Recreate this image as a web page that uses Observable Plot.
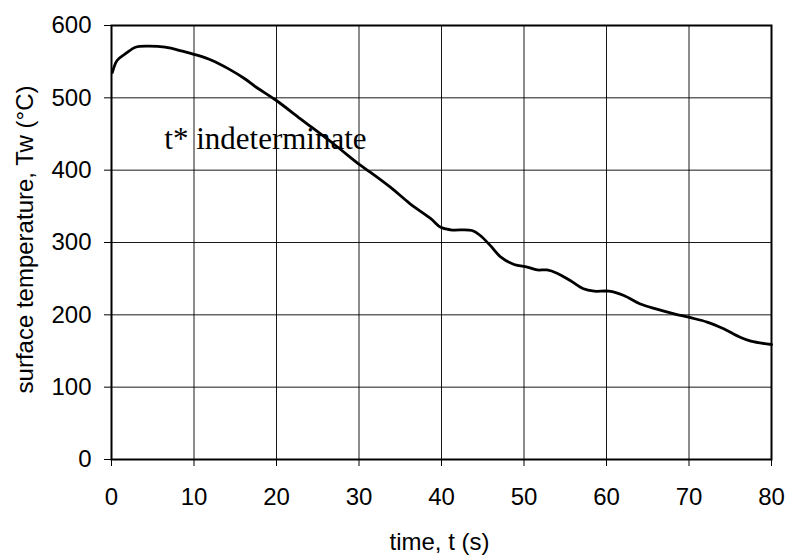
<!DOCTYPE html>
<html>
<head>
<meta charset="utf-8">
<script src="https://cdn.jsdelivr.net/npm/d3@7"></script>
<script src="https://cdn.jsdelivr.net/npm/@observablehq/plot@0.6"></script>
<style>
  html, body { margin: 0; padding: 0; background: #fff; }
</style>
</head>
<body>
<div id="chart"></div>
<script>
// time (s)
const timeS = [0.1, 0.7, 1.7, 2.9, 4.5, 6.5, 8.6, 10.2, 12.2, 14.2, 16.2, 17.5, 19.9, 22.9, 26.9, 30.2, 31.4, 33.8, 36.2, 38.7, 39.9, 41.1, 43.7, 44.7, 45.9, 47.2, 48.8, 50.4, 51.6, 52.8, 54.0, 55.6, 57.2, 58.5, 60.3, 62.1, 64.1, 66.1, 68.2, 70.2, 72.2, 74.2, 76.2, 77.5, 80];
// surface temperature Tw (°C)
const tempC = [535, 552, 561, 570, 571.5, 570, 564.5, 559.5, 551.6, 540, 526, 515, 497, 471, 436.5, 406.5, 397, 376.5, 353.5, 333, 321, 317.5, 316.6, 309.7, 296, 279.7, 269.6, 266, 262, 262, 257.6, 247.5, 236, 232.7, 232.7, 226.7, 215, 208, 201.4, 196, 190, 180.7, 169, 163.6, 159];

const xTicks = [0, 10, 20, 30, 40, 50, 60, 70, 80];
const yTicks = [0, 100, 200, 300, 400, 500, 600];

const xLabel = "time, t (s)";
const yLabel = "surface temperature, Tw (°C)";
const annotText = ["t* indeterminate"];
const annotX = [6.4];
const annotY = [443];

const series = timeS.map((t, i) => ({t, T: tempC[i]}));
const annot = annotText.map((s, i) => ({s, x: annotX[i], y: annotY[i]}));

const chart = Plot.plot({
  width: 787,
  height: 555,
  marginLeft: 111,
  marginRight: 16,
  marginTop: 25,
  marginBottom: 96,
  style: {fontFamily: "Liberation Sans, Arial, sans-serif", color: "black", background: "white"},
  x: {domain: [0, 80]},
  y: {domain: [0, 600]},
  marks: [
    Plot.gridX(xTicks, {stroke: "black", strokeOpacity: 0.9, strokeWidth: 1}),
    Plot.gridY(yTicks, {stroke: "black", strokeOpacity: 0.9, strokeWidth: 1}),
    Plot.frame({stroke: "black", strokeWidth: 2}),
    Plot.axisX({ticks: xTicks, tickSize: 7, tickPadding: 21, fontSize: 24, label: null, tickFormat: d => String(d)}),
    Plot.axisY({ticks: yTicks, tickSize: 7, tickPadding: 13, fontSize: 24, label: null, tickFormat: d => String(d)}),
    Plot.line(series, {x: "t", y: "T", stroke: "black", strokeWidth: 2.8, curve: "catmull-rom"}),
    Plot.text(annot, {x: "x", y: "y", text: "s", textAnchor: "start", lineAnchor: "middle", fontFamily: "Liberation Serif, Times New Roman, serif", fontSize: 31, fill: "black"}),
    Plot.text([xLabel], {text: d => d, frameAnchor: "bottom", textAnchor: "middle", lineAnchor: "middle", dy: 83, dx: -2, fontSize: 24, fill: "black"}),
    Plot.text([yLabel], {text: d => d, frameAnchor: "left", textAnchor: "middle", lineAnchor: "middle", rotate: -90, dx: -86, dy: -3, fontSize: 24, fill: "black"})
  ]
});
document.getElementById("chart").appendChild(chart);
</script>
</body>
</html>
